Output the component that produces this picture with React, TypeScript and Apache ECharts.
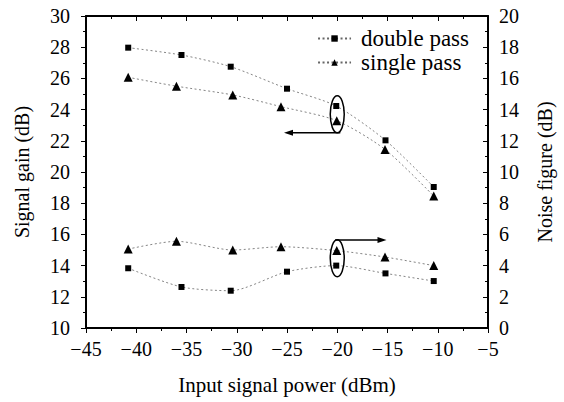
import React, { useEffect, useRef } from "react";
import * as echarts from "echarts";

const inputPower = [-40.8, -35.5, -30.6, -25.0, -20.1, -15.2, -10.4];
const inputPowerSingle = [-40.8, -36.0, -30.4, -25.6, -20.05, -15.25, -10.4];
const gainDouble = [27.97, 27.5, 26.75, 25.34, 24.23, 22.03, 19.04];
const gainSingle = [26.07, 25.5, 24.94, 24.19, 23.29, 21.45, 18.46];
const nfDouble = [3.83, 2.63, 2.39, 3.61, 4.0, 3.5, 3.01];
const nfSingle = [5.06, 5.56, 5.0, 5.21, 4.96, 4.55, 4.0];
const seriesNames = ["double pass", "single pass"];

const FONT = "Liberation Serif, Times New Roman, serif";

const zip = (xs: number[], ys: number[]) => xs.map((x, i) => [x, ys[i]]);
const fmtMinus = (v: number) => (v < 0 ? "\u2212" + Math.abs(v) : String(v));

export default function App() {
  const ref = useRef<HTMLDivElement>(null);
  useEffect(() => {
    if (!ref.current) return;
    const chart = echarts.init(ref.current, null, { renderer: "svg" });
    const lineStyle = { color: "#666", width: 0.8, type: [2, 2.5] as any };
    const labelStyle = { fontFamily: FONT, fontSize: 20, color: "#000" };
    const nameStyle = { fontFamily: FONT, fontSize: 20, color: "#000" };
    const axisLine = { show: true, onZero: false, lineStyle: { color: "#000", width: 2 } };
    chart.setOption({
      animation: false,
      backgroundColor: "#fff",
      grid: { left: 86, right: 76, top: 16, bottom: 74, containLabel: false },
      legend: {
        orient: "vertical",
        right: 95,
        top: 27,
        padding: 0,
        itemWidth: 33,
        itemHeight: 8,
        itemGap: 1,
        data: seriesNames,
        textStyle: { ...nameStyle, fontSize: 23, padding: [0, 0, 0, 5] },
      },
      xAxis: [
        {
          type: "value",
          min: -45,
          max: -5,
          interval: 5,
          position: "bottom",
          name: "Input signal power (dBm)",
          nameLocation: "middle",
          nameGap: 46,
          nameTextStyle: { ...nameStyle, fontSize: 21 },
          axisLine,
          axisTick: { show: true, inside: false, length: 5, lineStyle: { color: "#000" } },
          minorTick: { show: true, splitNumber: 2, length: 3, lineStyle: { color: "#000" } },
          axisLabel: { ...labelStyle, margin: 11, formatter: fmtMinus },
          splitLine: { show: false },
        },
        {
          type: "value",
          min: -45,
          max: -5,
          interval: 5,
          position: "top",
          axisLine,
          axisTick: { show: true, inside: true, length: 5, lineStyle: { color: "#000" } },
          minorTick: { show: true, splitNumber: 2, length: 3, lineStyle: { color: "#000" } },
          axisLabel: { show: false },
          splitLine: { show: false },
        },
      ],
      yAxis: [
        {
          type: "value",
          min: 10,
          max: 30,
          interval: 2,
          position: "left",
          name: "Signal gain (dB)",
          nameLocation: "middle",
          nameGap: 54,
          nameTextStyle: nameStyle,
          axisLine,
          axisTick: { show: true, inside: false, length: 5, lineStyle: { color: "#000" } },
          minorTick: { show: true, splitNumber: 2, length: 3, lineStyle: { color: "#000" } },
          axisLabel: { ...labelStyle, margin: 16 },
          splitLine: { show: false },
        },
        {
          type: "value",
          min: 0,
          max: 20,
          interval: 2,
          position: "right",
          name: "Noise figure (dB)",
          nameLocation: "middle",
          nameGap: 47,
          nameTextStyle: nameStyle,
          axisLine,
          axisTick: { show: true, inside: true, length: 5, lineStyle: { color: "#000" } },
          minorTick: { show: true, splitNumber: 2, length: 3, lineStyle: { color: "#000" } },
          axisLabel: { ...labelStyle, margin: 11 },
          splitLine: { show: false },
        },
      ],
      series: [
        {
          name: seriesNames[0],
          type: "line",
          yAxisIndex: 0,
          data: zip(inputPower, gainDouble),
          symbol: "rect",
          symbolSize: 6,
          smooth: 0.25,
          itemStyle: { color: "#000" },
          lineStyle,
        },
        {
          name: seriesNames[1],
          type: "line",
          yAxisIndex: 0,
          data: zip(inputPowerSingle, gainSingle),
          symbol: "triangle",
          symbolSize: 9,
          smooth: 0.25,
          itemStyle: { color: "#000" },
          lineStyle,
        },
        {
          name: seriesNames[0],
          type: "line",
          yAxisIndex: 1,
          data: zip(inputPower, nfDouble),
          symbol: "rect",
          symbolSize: 6,
          smooth: 0.25,
          itemStyle: { color: "#000" },
          lineStyle,
        },
        {
          name: seriesNames[1],
          type: "line",
          yAxisIndex: 1,
          data: zip(inputPowerSingle, nfSingle),
          symbol: "triangle",
          symbolSize: 9,
          smooth: 0.25,
          itemStyle: { color: "#000" },
          lineStyle,
        },
      ],
    });

    // annotations positioned from data coordinates
    const pL = (x: number, y: number) =>
      chart.convertToPixel({ xAxisIndex: 0, yAxisIndex: 0 }, [x, y]) as number[];
    const pR = (x: number, y: number) =>
      chart.convertToPixel({ xAxisIndex: 0, yAxisIndex: 1 }, [x, y]) as number[];
    const e1 = pL(-20.0, 23.7);
    const a1s = pL(-19.7, 22.52);
    const a1e = pL(-25.3, 22.52);
    const e2 = pR(-20.0, 4.47);
    const a2s = pR(-20.2, 5.64);
    const a2e = pR(-15.1, 5.64);
    const ink = { stroke: "#000", lineWidth: 1.5, fill: "none" };
    chart.setOption({
      graphic: [
        { type: "ellipse", shape: { cx: e1[0], cy: e1[1], rx: 7, ry: 18.5 }, style: ink, z: 100 },
        { type: "line", shape: { x1: a1s[0], y1: a1s[1], x2: a1e[0] + 4, y2: a1e[1] }, style: ink, z: 100 },
        {
          type: "polygon",
          shape: { points: [[a1e[0], a1e[1]], [a1e[0] + 9, a1e[1] - 3], [a1e[0] + 9, a1e[1] + 3]] },
          style: { fill: "#000" },
          z: 100,
        },
        { type: "ellipse", shape: { cx: e2[0], cy: e2[1], rx: 7, ry: 18.5 }, style: ink, z: 100 },
        { type: "line", shape: { x1: a2s[0], y1: a2s[1], x2: a2e[0] - 4, y2: a2e[1] }, style: ink, z: 100 },
        {
          type: "polygon",
          shape: { points: [[a2e[0], a2e[1]], [a2e[0] - 9, a2e[1] - 3], [a2e[0] - 9, a2e[1] + 3]] },
          style: { fill: "#000" },
          z: 100,
        },
      ],
    });
    return () => chart.dispose();
  }, []);
  return <div ref={ref} style={{ width: 564, height: 402, position: "absolute", left: 0, top: 0 }} />;
}
